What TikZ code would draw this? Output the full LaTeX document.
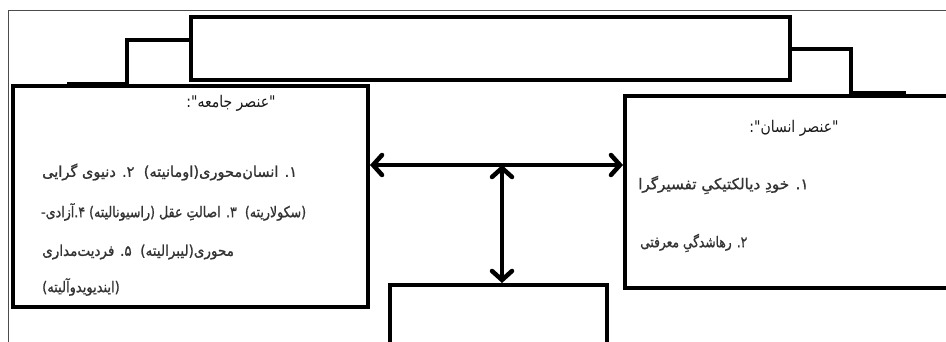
\documentclass[tikz,border=0pt]{standalone}
\usepackage{fontspec}
\newfontfamily\arabicfont[Script=Arabic]{DejaVu Sans}
\newfontfamily\arabicbody[Script=Arabic,FakeBold=1.2]{DejaVu Sans}
\TeXXeTstate=1
\usetikzlibrary{arrows.meta}
\newcommand{\rtlline}[2]{\scalebox{#1}[1.15]{#2}}
\tikzset{
  box/.style={draw=black, line width=4pt, fill=white, inner sep=0pt, rectangle},
  conn/.style={draw=black, line width=4pt, line cap=butt},
  dblarrow/.style={draw=black, line width=4.5pt, {Straight Barb[length=9pt,width=20pt,line cap=round]}-{Straight Barb[length=9pt,width=20pt,line cap=round]}},
  txt/.style={font=\arabicbody\fontsize{13}{15}\selectfont, inner sep=0pt, text=black!80},
  ttl/.style={font=\arabicfont\fontsize{14}{16}\selectfont, inner sep=0pt, text=black!90},
  frame/.style={draw=black!70, line width=1pt}
}
\begin{document}
\begin{tikzpicture}[x=1pt, y=-1pt]
\useasboundingbox (0,0) rectangle (946,342);
\clip (0,0) rectangle (946,342);
\fill[white] (0,0) rectangle (946,342);
\coordinate (fb) at (8,342);
\coordinate (ft) at (8,11);
\coordinate (fr) at (946,11);
\draw[frame] (fb) -- (ft) -- (fr);

\node[box, minimum width=599pt, minimum height=63pt] (top) at (490.5,48.5) {};
\node[box, minimum width=355pt, minimum height=221pt] (left) at (190.5,196.5) {};
\node[box, minimum width=355pt, minimum height=192pt] (right) at (802.5,192) {};
\node[box, minimum width=217pt, minimum height=85pt] (bottom) at (498.5,327.5) {};

\coordinate (lend) at (67,84);
\coordinate (rend) at (906,93);
\draw[conn] ([yshift=8.5pt]top.west) -- ++(-62,0) |- (lend);
\draw[conn] ([yshift=-0.5pt]top.east) -- ++(59,0) |- (rend);

\draw[dblarrow] ([yshift=31.5pt]left.east) -- ([yshift=27pt]right.west);
\coordinate (mid) at (502,165);
\draw[dblarrow] (mid) -- (mid |- bottom.north);

\node[ttl] (lt) at (231,103) {\rtlline{1}{\beginR"عنصر جامعه":\endR}};
\node[txt, anchor=west] (l1) at (42,172) {\rtlline{1.12}{\beginR۱. انسان‌محوری(اومانیته)\ \ ۲. دنیوی گرایی\endR}};
\node[txt, anchor=west] (l2) at (41,212) {\rtlline{0.97}{\beginR(سکولاریته)\ \ ۳. اصالتِ عقل (راسیونالیته) ۴.آزادی-\endR}};
\node[txt, anchor=west] (l3) at (42,252) {\rtlline{1.04}{\beginR محوری(لیبرالیته)\ \ ۵. فردیت‌مداری\endR}};
\node[txt, anchor=west] (l4) at (42,287) {\rtlline{1}{\beginR(ایندیویدوآلیته)\endR}};

\node[ttl] (rt) at (794,128) {\rtlline{1}{\beginR"عنصر انسان":\endR}};
\node[txt, anchor=west] (r1) at (638,185) {\rtlline{1.17}{\beginR۱. خودِ دیالکتیکیِ تفسیرگرا\endR}};
\node[txt, anchor=west] (r2) at (640,243) {\rtlline{0.94}{\beginR۲. رهاشدگیِ معرفتی\endR}};
\end{tikzpicture}
\end{document}
